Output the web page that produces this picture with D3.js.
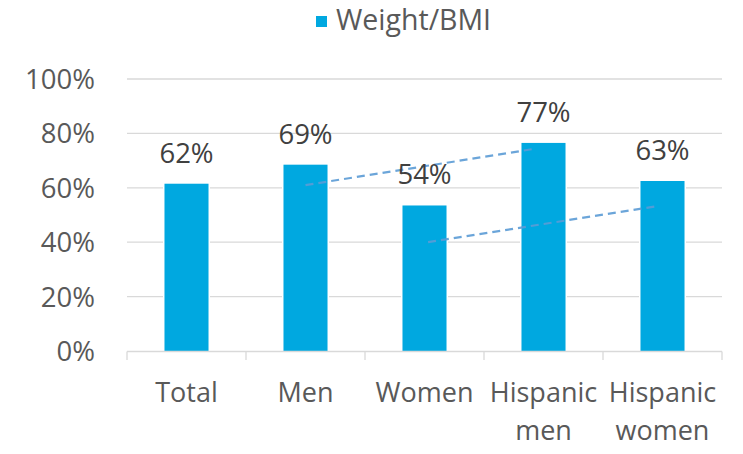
<!DOCTYPE html>
<html>
<head>
<meta charset="utf-8">
<script src="https://cdn.jsdelivr.net/npm/d3@7"></script>
<style>
  html, body { margin: 0; padding: 0; background: #fff; }
  svg text { font-family: "Open Sans", sans-serif; }
</style>
</head>
<body>
<svg id="chart" width="743" height="454"></svg>
<script>
"use strict";

// categories and values
var categories = [ ["Total"], ["Men"], ["Women"], ["Hispanic", "men"], ["Hispanic", "women"] ];
var values = [ 61.5, 68.5, 53.5, 76.5, 62.5 ];
var value_labels = [ "62%", "69%", "54%", "77%", "63%" ];
var y_ticks = [ 0, 20, 40, 60, 80, 100 ];
var series_name = "Weight/BMI";

// dashed connector lines: [from index, from value, to index, to value]
var connectors = [
    [ 1.0, 61.0, 2.92, 74.3 ],
    [ 2.03, 40.0, 3.96, 53.3 ]
];

var svg = d3.select('#chart');

var margin = { left: 127, right: 21, top: 79, bottom: 103 };
var width = 743, height = 454;

var keys = categories.map( function( d ) { return d.join(' '); } );

var x = d3.scaleBand()
    .domain( keys )
    .range( [ margin.left, width - margin.right ] )
    .paddingInner( 0.63 )
    .paddingOuter( 0.315 );

var y = d3.scaleLinear()
    .domain( [ 0, 100 ] )
    .range( [ height - margin.bottom, margin.top ] );

// a linear scale over category index (centres) for the connector lines
var xi = d3.scaleLinear()
    .domain( [ 0, keys.length - 1 ] )
    .range( [ x( keys[0] ) + x.bandwidth() / 2, x( keys[keys.length - 1] ) + x.bandwidth() / 2 ] );

var grid_color = '#d9d9d9';
var bar_color = '#00a8e0';

// gridlines
svg.append('g').classed('grid', true)
    .selectAll('line')
    .data( y_ticks.filter( function( d ) { return d > 0; } ) )
    .enter().append('line')
        .attr('x1', margin.left)
        .attr('x2', width - margin.right)
        .attr('y1', function( d ) { return y( d ); })
        .attr('y2', function( d ) { return y( d ); })
        .attr('stroke', grid_color)
        .attr('stroke-width', 1.3);

// y axis labels
svg.append('g').classed('y-labels', true)
    .selectAll('text')
    .data( y_ticks )
    .enter().append('text')
        .attr('x', 95)
        .attr('y', function( d ) { return y( d ); })
        .attr('dy', '0.36em')
        .attr('text-anchor', 'end')
        .attr('font-size', 27.5)
        .attr('fill', '#595959')
        .text( function( d ) { return d + '%'; });

// bars (white outline breaks the gridlines like the original)
svg.append('g').classed('bars', true)
    .selectAll('rect')
    .data( values )
    .enter().append('rect')
        .attr('x', function( d, i ) { return x( keys[i] ); })
        .attr('y', function( d ) { return y( d ); })
        .attr('width', x.bandwidth())
        .attr('height', function( d ) { return y( 0 ) - y( d ); })
        .attr('fill', bar_color)
        .attr('stroke', '#fff')
        .attr('stroke-width', 3)
        .style('paint-order', 'stroke');

// x axis line and ticks
var step = x.step();
var boundaries = d3.range( keys.length + 1 ).map( function( i ) {
    return x( keys[0] ) + x.bandwidth() / 2 - step / 2 + i * step;
});

var axis = svg.append('g').classed('x-axis', true);
axis.append('line')
    .attr('x1', boundaries[0])
    .attr('x2', boundaries[boundaries.length - 1])
    .attr('y1', y( 0 ) + 0.5)
    .attr('y2', y( 0 ) + 0.5)
    .attr('stroke', grid_color)
    .attr('stroke-width', 1.3);
axis.selectAll('line.tick')
    .data( boundaries )
    .enter().append('line')
        .classed('tick', true)
        .attr('x1', function( d ) { return d; })
        .attr('x2', function( d ) { return d; })
        .attr('y1', y( 0 ) + 0.5)
        .attr('y2', y( 0 ) + 9)
        .attr('stroke', grid_color)
        .attr('stroke-width', 1.3);

// category labels
var cat = svg.append('g').classed('x-labels', true)
    .selectAll('text')
    .data( categories )
    .enter().append('text')
        .attr('x', function( d, i ) { return x( keys[i] ) + x.bandwidth() / 2; })
        .attr('y', 402)
        .attr('text-anchor', 'middle')
        .attr('font-size', 27)
        .attr('fill', '#595959');
cat.selectAll('tspan')
    .data( function( d ) { return d; } )
    .enter().append('tspan')
        .attr('x', function() { return d3.select( this.parentNode ).attr('x'); })
        .attr('dy', function( d, i ) { return i === 0 ? 0 : 38; })
        .text( function( d ) { return d; });

// dashed connectors
svg.append('g').classed('connectors', true)
    .selectAll('line')
    .data( connectors )
    .enter().append('line')
        .attr('x1', function( d ) { return xi( d[0] ); })
        .attr('y1', function( d ) { return y( d[1] ); })
        .attr('x2', function( d ) { return xi( d[2] ); })
        .attr('y2', function( d ) { return y( d[3] ); })
        .attr('stroke', '#5b9bd5')
        .attr('stroke-opacity', 0.9)
        .attr('stroke-width', 2.2)
        .attr('stroke-dasharray', '8,5');

// value labels
svg.append('g').classed('value-labels', true)
    .selectAll('text')
    .data( values )
    .enter().append('text')
        .attr('x', function( d, i ) { return x( keys[i] ) + x.bandwidth() / 2; })
        .attr('y', function( d ) { return y( d ) - 21; })
        .attr('text-anchor', 'middle')
        .attr('font-size', 27.5)
        .attr('fill', '#404040')
        .text( function( d, i ) { return value_labels[i]; });

// legend
var legend = svg.append('g').classed('legend', true);
legend.append('rect')
    .attr('x', 316)
    .attr('y', 16)
    .attr('width', 11)
    .attr('height', 11)
    .attr('fill', bar_color);
legend.append('text')
    .attr('x', 336)
    .attr('y', 30)
    .attr('font-size', 28.5)
    .attr('fill', '#595959')
    .text( series_name );
</script>
</body>
</html>
